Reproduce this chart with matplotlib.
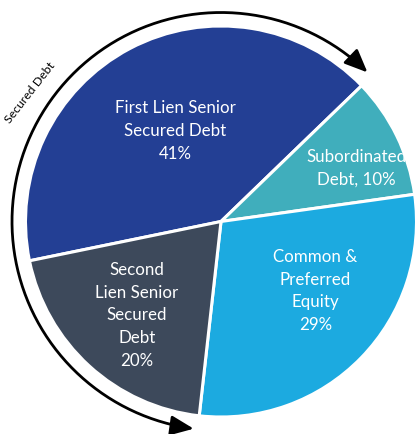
import numpy as np
import matplotlib
matplotlib.use("Agg")
import matplotlib.pyplot as plt
from matplotlib.patches import FancyArrowPatch
from matplotlib.path import Path

# Portfolio composition by security type (clockwise from the left)
categories = ["First Lien Senior Secured Debt", "Subordinated Debt",
              "Common & Preferred Equity", "Second Lien Senior Secured Debt"]
shares = [41, 10, 29, 20]
label_texts = ["First Lien Senior\nSecured Debt\n41%", "Subordinated\nDebt, 10%",
               "Common &\nPreferred\nEquity\n29%", "Second\nLien Senior\nSecured\nDebt\n20%"]
colors = ["#233F94", "#40AEBC", "#1CAAE0", "#3D495B"]
bracket_label = "Secured Debt"

W, H = 417, 435
fig = plt.figure(figsize=(W / 100, H / 100), dpi=100)
ax = fig.add_axes([0, 0, 1, 1])

cx, cy, R = 221.0, H - 222.5, 195.5
wedges, _ = ax.pie(shares, center=(cx, cy), radius=R, startangle=191.6, counterclock=False,
                   colors=colors, wedgeprops=dict(edgecolor="white", linewidth=2.2))

# Slice labels
fontfam = ["Lato", "DejaVu Sans"]
label_xy = [(175, H - 131), (356, H - 168), (315.5, H - 291), (137, H - 315.5)]
for txt, (x, y) in zip(label_texts, label_xy):
    ax.text(x, y, txt, ha="center", va="center", color="white", fontsize=12.2,
            family=fontfam, linespacing=1.53)

# Bracketing arc with arrowheads around the secured-debt slices
rA = 209.0
theta = np.radians(np.linspace(45.5, 262.5, 200))
pts = np.column_stack([cx + rA * np.cos(theta), cy + rA * np.sin(theta)])
arc = FancyArrowPatch(path=Path(pts), arrowstyle="<|-|>,head_length=1.4,head_width=0.6",
                      mutation_scale=10, color="black", linewidth=2.0, shrinkA=0, shrinkB=0)
ax.add_patch(arc)

ax.text(30, H - 92.5, bracket_label, rotation=52, ha="center", va="center", fontsize=8.8,
        color="black", family=fontfam, rotation_mode="anchor")

ax.set_xlim(0, W)
ax.set_ylim(0, H)
ax.set_aspect("equal")
ax.axis("off")

fig.savefig("out.png", dpi=100)
